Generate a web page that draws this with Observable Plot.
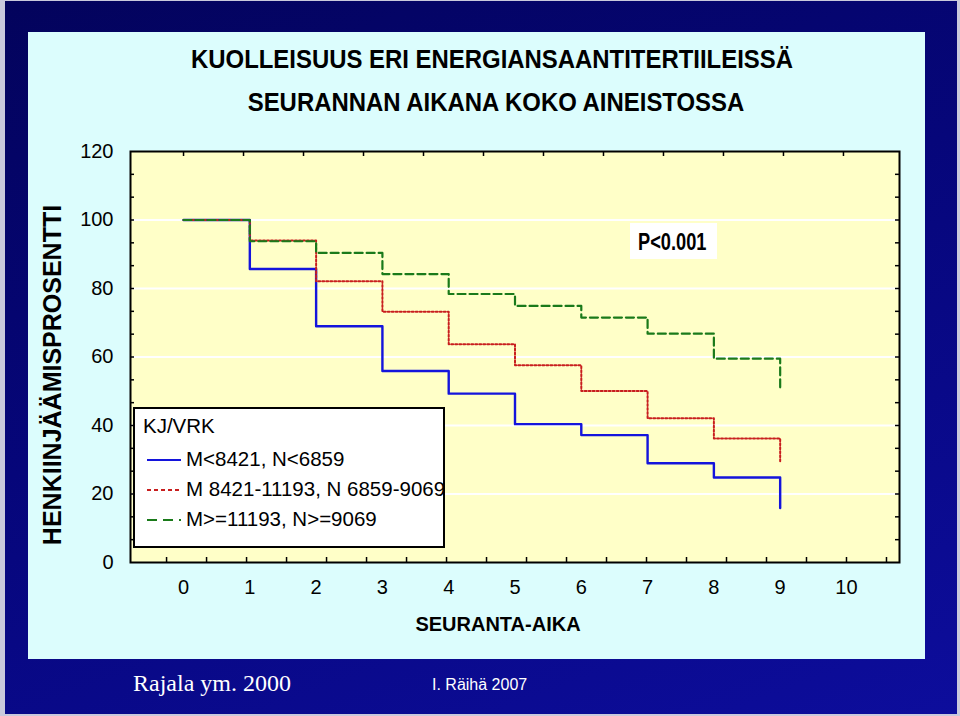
<!DOCTYPE html>
<html>
<head>
<meta charset="utf-8">
<script src="https://cdn.jsdelivr.net/npm/d3@7"></script>
<script src="https://cdn.jsdelivr.net/npm/@observablehq/plot@0.6"></script>
<style>
  html, body { margin: 0; padding: 0; }
  body { width: 960px; height: 716px; background: #c9c9dc; position: relative; overflow: hidden; font-family: "Liberation Sans", Arial, sans-serif; }
  #bg { position: absolute; left: 5px; top: 1px; width: 952px; height: 713px;
        background: linear-gradient(160deg, #03035c 0%, #06067a 45%, #0d0d9c 100%); }
  #panel { position: absolute; left: 28px; top: 32px; width: 897px; height: 627px; background: #dcfdfd; }
  .title { position: absolute; width: 960px; text-align: center; font-weight: bold; font-size: 26px; color: #000; white-space: nowrap; transform: scaleX(0.92); }
  #chart { position: absolute; left: 28px; top: 140px; }
  #legend { position: absolute; left: 133px; top: 407px; width: 308px; height: 137px; background: #fff; border: 2px solid #000; }
  .lg { position: absolute; font-size: 20.5px; white-space: nowrap; color: #000; }
  #pbox { position: absolute; left: 630px; top: 223px; width: 87px; height: 36px; background: #fff; }
  #pbox span { position: absolute; left: 8px; top: 5px; font-weight: bold; font-size: 24px; display: inline-block; transform: scaleX(0.76); transform-origin: left center; }
  .foot { position: absolute; color: #fff; white-space: nowrap; }
</style>
</head>
<body>
<div id="bg"></div>
<div id="panel"></div>
<div class="title" style="top:44px; left:12px;">KUOLLEISUUS ERI ENERGIANSAANTITERTIILEISSÄ</div>
<div class="title" style="top:87px; left:16px;">SEURANNAN AIKANA KOKO AINEISTOSSA</div>
<div id="chart"></div>
<div id="legend"></div>
<div id="pbox"><span>P&lt;0.001</span></div>
<div class="foot" style="left:133px; top:670px; font-family:'Liberation Serif','Times New Roman',serif; font-size:24px;">Rajala ym. 2000</div>
<div class="foot" style="left:432px; top:676px; font-size:16px;">I. Räihä 2007</div>
<script>
// ---- data ----
const years = [0, 1, 2, 3, 4, 5, 6, 7, 8, 9];
const lowIntake  = [100, 85.7, 69.0, 55.9, 49.3, 40.4, 37.2, 29.0, 24.8, 15.9];
const midIntake  = [100, 94.0, 82.1, 73.2, 63.7, 57.6, 50.1, 42.1, 36.2, 29.0];
const highIntake = [100, 93.8, 90.4, 84.2, 78.4, 74.9, 71.5, 66.8, 59.5, 50.9];
const seriesNames = ["M<8421, N<6859", "M 8421-11193, N 6859-9069", "M>=11193, N>=9069"];
const seriesColors = ["#1414dc", "#c81e1e", "#1a7a1a"];
const xTicks = [0, 1, 2, 3, 4, 5, 6, 7, 8, 9, 10];
const yTicks = [0, 20, 40, 60, 80, 100, 120];
const gridVals = [20, 40, 60, 80, 100];
const legendTitle = "KJ/VRK";
const yLabel = "HENKIINJÄÄMISPROSENTTI";
const xLabel = "SEURANTA-AIKA";

const rows = [];
[lowIntake, midIntake, highIntake].forEach((arr, i) => {
  years.forEach((yr, j) => rows.push({series: seriesNames[i], year: yr, value: arr[j]}));
});

const W = 897, H = 510, mL = 102, mR = 26, mT = 11, mB = 88;
const pw = W - mL - mR, ph = H - mT - mB;
const xDom = [-0.8, 10.8], yDom = [0, 120];
const yMinor = d3.range(20 / 3, 119.9, 20 / 3);
const xMinorBottom = d3.range(-0.256, 10.8, 40 / 66.3);
const xMinorTop = d3.range(0, 10.8, 60 / 66.3);

const lineStyle = [
  {stroke: seriesColors[0], strokeWidth: 2.4},
  {stroke: seriesColors[1], strokeWidth: 2, strokeDasharray: "2,2"},
  {stroke: seriesColors[2], strokeWidth: 2.2, strokeDasharray: "8,4"}
];

const chart = Plot.plot({
  width: W, height: H,
  marginLeft: mL, marginRight: mR, marginTop: mT, marginBottom: mB,
  x: {domain: xDom},
  y: {domain: yDom},
  style: {background: "transparent", fontFamily: "'Liberation Sans', Arial, sans-serif", fontSize: "20px", overflow: "visible", color: "#000"},
  marks: [
    Plot.frame({fill: "#ffffc8", stroke: "none"}),
    Plot.ruleY(gridVals, {stroke: "#ffffff", strokeWidth: 2}),
    ...seriesNames.map((s, i) => Plot.line(rows.filter(d => d.series === s), {x: "year", y: "value", curve: "step-after", ...lineStyle[i]})),
    Plot.frame({stroke: "#000", strokeWidth: 2}),
    Plot.ruleY(yMinor, {stroke: "#000", strokeWidth: 1.5, insetRight: pw - 4}),
    Plot.ruleY(yMinor, {stroke: "#000", strokeWidth: 1.5, insetLeft: pw - 4}),
    Plot.ruleX(xMinorBottom, {stroke: "#000", strokeWidth: 1.5, insetTop: ph - 5}),
    Plot.ruleX(xMinorTop, {stroke: "#000", strokeWidth: 1.5, insetBottom: ph - 5}),
    Plot.axisY(yTicks, {tickSize: 0, tickPadding: 17, fontSize: 20, label: null}),
    Plot.axisX(xTicks, {tickSize: 0, tickPadding: 17, fontSize: 20, label: null}),
    Plot.text([yLabel], {text: d => d, frameAnchor: "left", textAnchor: "middle", rotate: -90, dx: -78, dy: 18, fontWeight: "bold", fontSize: 25}),
    Plot.text([xLabel], {text: d => d, frameAnchor: "bottom", dx: -17, dy: 68, fontWeight: "bold", fontSize: 20})
  ]
});
document.getElementById("chart").appendChild(chart);

// ---- legend ----
const legend = document.getElementById("legend");
const t = document.createElement("div");
t.className = "lg"; t.style.left = "8px"; t.style.top = "5px"; t.textContent = legendTitle;
legend.appendChild(t);
const dashes = [null, "4,3", "10,6"];
seriesNames.forEach((name, i) => {
  const top = 38 + i * 30;
  const svg = d3.create("svg").attr("width", 36).attr("height", 10)
    .style("position", "absolute").style("left", "12px").style("top", (top + 8) + "px");
  svg.append("line").attr("x1", 0).attr("x2", 34).attr("y1", 5).attr("y2", 5)
    .attr("stroke", seriesColors[i]).attr("stroke-width", 2.2)
    .attr("stroke-dasharray", dashes[i]);
  legend.appendChild(svg.node());
  const lab = document.createElement("div");
  lab.className = "lg"; lab.style.left = "51px"; lab.style.top = top + "px"; lab.textContent = name;
  legend.appendChild(lab);
});
</script>
</body>
</html>
